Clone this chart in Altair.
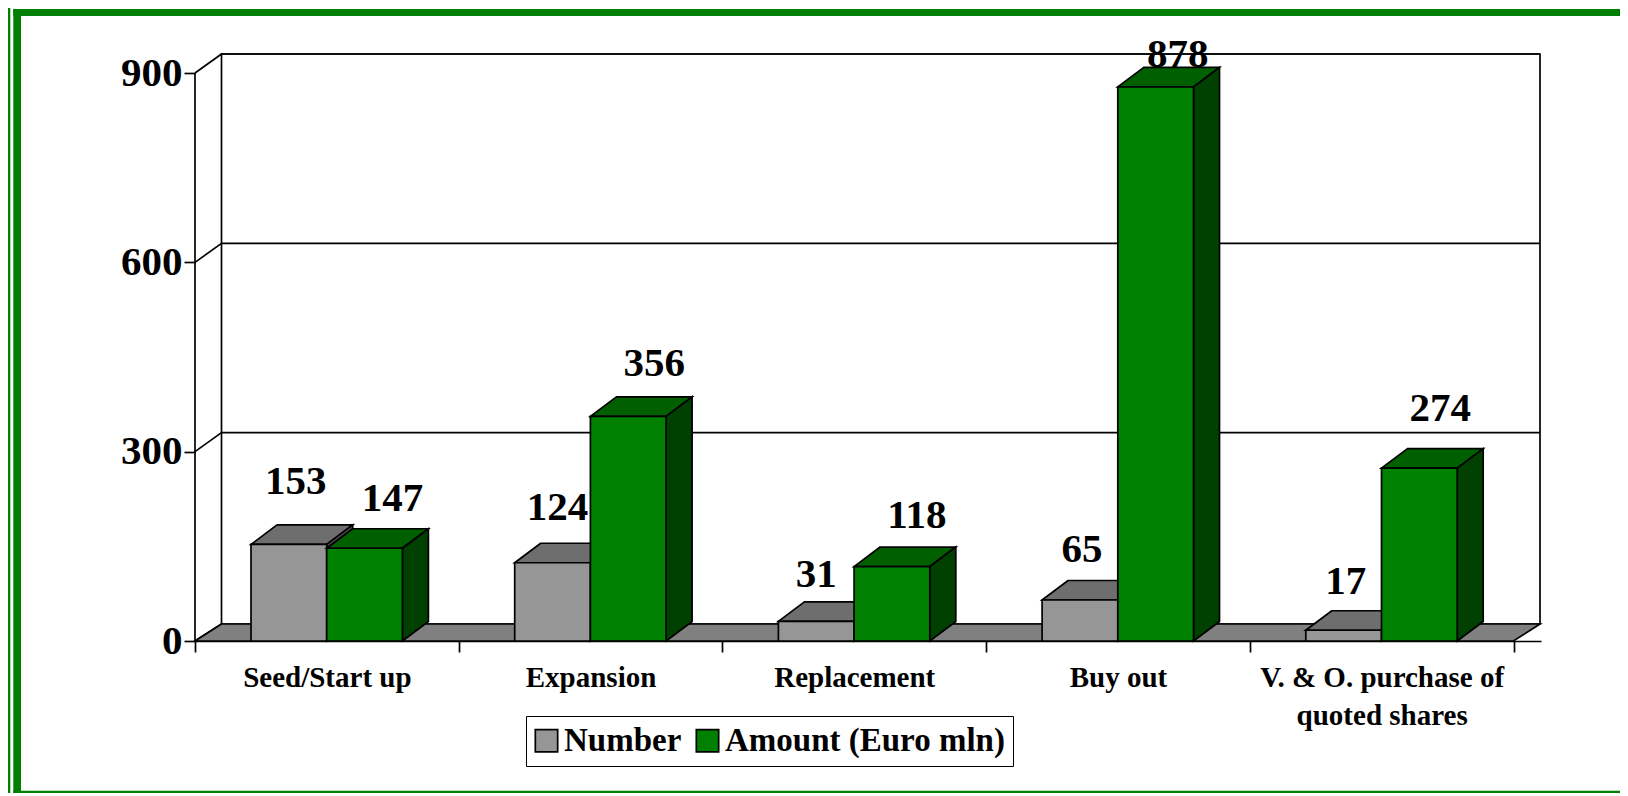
import json
import altair as alt
import pandas as pd

# ---- chart values ----
categories = ["Seed/Start up", "Expansion", "Replacement", "Buy out", "V. & O. purchase of quoted shares"]
tick_lines = [["Seed/Start up"], ["Expansion"], ["Replacement"], ["Buy out"], ["V. & O. purchase of", "quoted shares"]]
series_names = ["Number", "Amount (Euro mln)"]
number_values = [153, 124, 31, 65, 17]
amount_values = [147, 356, 118, 878, 274]
y_ticks = [0, 300, 600, 900]

# ---- layout (pixels) ----
W, H = 1346, 586
PAD_L, PAD_T = 187, 47
FLOOR_DX, WALL_DY, FLOOR_DY = 26.5, 19, 17
BAR_DX, BAR_DY = 26, 19.5
PX_PER_UNIT = 263.7
PX_PER_VALUE = (640 - 72) / 900
FONT = "Liberation Serif"
GREEN = "#008000"
LW = 1.7

xd = FLOOR_DX / PX_PER_UNIT
yd = WALL_DY / PX_PER_VALUE
fd = FLOOR_DY / PX_PER_VALUE
bdx = BAR_DX / PX_PER_UNIT
bdy = BAR_DY / PX_PER_VALUE
bar_start = 56 / PX_PER_UNIT
bar_w = 75.7 / PX_PER_UNIT

xscale = alt.Scale(domain=[0, W / PX_PER_UNIT], nice=False, zero=False)
yscale = alt.Scale(domain=[0, H / PX_PER_VALUE], nice=False, zero=False)

# label nudges, in pixels: distance above the bar top and to the right of the bar centre
lift_px = {"Number": [62, 55, 46, 50, 48], "Amount (Euro mln)": [49, 52, 51, 32, 59]}
nudge_px = {"Number": [7, 5, 0, 2, 2], "Amount (Euro mln)": [28, 26, 25, 22, 21]}
shades = {"Number": ("#969696", "#6E6E6E", "#4B4B4B"), "Amount (Euro mln)": (GREEN, "#006000", "#004000")}


def X(f="x", **kw):
    return alt.X(f, type="quantitative", scale=xscale, title=None, **kw)


def Y(f="y", **kw):
    return alt.Y(f, type="quantitative", scale=yscale, title=None, **kw)


fronts, tops, sides, labels = [], [], [], []
for s, values in zip(series_names, [number_values, amount_values]):
    offset = series_names.index(s) * bar_w
    for i, v in enumerate(values):
        a = i + bar_start + offset
        b = a + bar_w
        fronts.append(dict(series=s, x=a, x2=b, y=v, y0=0))
        key = f"{s}-{i}"
        tops += [dict(series=s, id=key, x=a, x2=b, y=v), dict(series=s, id=key, x=a + bdx, x2=b + bdx, y=v + bdy)]
        sides += [dict(series=s, id=key, x=b, y=v, y0=0), dict(series=s, id=key, x=b + bdx, y=v + bdy, y0=bdy)]
        labels.append(dict(
            series=s, text=str(v),
            x=(a + b) / 2 + nudge_px[s][i] / PX_PER_UNIT,
            y=v + lift_px[s][i] / PX_PER_VALUE,
        ))
fronts, tops, sides, labels = map(pd.DataFrame, (fronts, tops, sides, labels))


def rect(x, x2, y, y2):
    return alt.Chart(pd.DataFrame([{"a": 1}])).mark_rect(fill=GREEN).encode(
        x=alt.value(x), x2=alt.value(x2), y=alt.value(y), y2=alt.value(y2)
    )


frame = [
    rect(-187, -184.7, -47, 738),
    rect(-181.7, -174, -46, 738),
    rect(-181.7, 1425, -46, -39),
    rect(-181.7, 1425, 735.7, 738),
]

# axes: ticks on the category boundaries, labels on the centres
x_values = [i / 2 for i in range(11)]
label_by_half = []
for i in range(5):
    label_by_half += ["", tick_lines[i]]
label_by_half.append("")
x_axis = alt.Axis(
    values=x_values, title=None, grid=False, domain=True, domainColor="black", domainWidth=LW,
    ticks=True, tickColor="black", tickWidth=LW, tickSize=11,
    tickOpacity={"condition": {"test": "datum.value % 1 != 0", "value": 0}, "value": 1},
    labelExpr=json.dumps(label_by_half) + "[round(datum.value * 2)]",
    labelFont=FONT, labelFontWeight="bold", labelFontSize=29, labelColor="black",
    labelPadding=11, labelOverlap=False, labelBound=False, labelFlush=False, labelAngle=0,
    labelLineHeight=38, labelLimit=0,
)
y_axis = alt.Axis(
    values=y_ticks, title=None, grid=False, domain=False,
    ticks=True, tickColor="black", tickWidth=LW, tickSize=11,
    labelFont=FONT, labelFontWeight="bold", labelFontSize=41, labelColor="black",
    labelPadding=2, labelOverlap=False, labelBound=False, format="d",
)
axes = alt.Chart(pd.DataFrame({"x": [0.0], "y": [0.0]})).mark_point(opacity=0).encode(
    x=alt.X("x:Q", scale=xscale, axis=x_axis),
    y=alt.Y("y:Q", scale=yscale, axis=y_axis),
)

# walls
n = len(categories)
back_wall = alt.Chart(pd.DataFrame([dict(x=xd, x2=n + xd, y=fd, y2=900 + yd)])).mark_rect(
    fill="white", stroke="black", strokeWidth=LW
).encode(x=X(), x2="x2", y=Y(), y2="y2")
grid = alt.Chart(pd.DataFrame([dict(x=xd, x2=n + xd, y=v + yd) for v in y_ticks if v > 0])).mark_rule(
    color="black", strokeWidth=LW
).encode(x=X(), x2="x2", y=Y())
diag_rows = []
for v in y_ticks:
    diag_rows += [dict(id=v, x=0, y=v), dict(id=v, x=xd, y=v + (yd if v > 0 else fd))]
diagonals = alt.Chart(pd.DataFrame(diag_rows)).mark_line(color="black", strokeWidth=LW).encode(
    x=X(), y=Y(), detail="id:N"
)
front_edge = alt.Chart(pd.DataFrame([dict(x=0, y=0, y2=900)])).mark_rule(color="black", strokeWidth=LW).encode(
    x=X(), y=Y(), y2="y2"
)
floor = alt.Chart(pd.DataFrame([dict(x=0, x2=n, y=0), dict(x=xd, x2=n + xd, y=fd)])).mark_area(
    orient="horizontal", fill="#808080", stroke="black", strokeWidth=LW, opacity=1
).encode(x=X(), x2="x2", y=Y())

# bars, series by series
bar_layers = []
for s in series_names:
    front_col, top_col, side_col = shades[s]
    bar_layers += [
        alt.Chart(tops[tops.series == s]).mark_area(
            orient="horizontal", fill=top_col, stroke="black", strokeWidth=LW, opacity=1
        ).encode(x=X(), x2="x2", y=Y(), detail="id:N"),
        alt.Chart(sides[sides.series == s]).mark_area(
            fill=side_col, stroke="black", strokeWidth=LW, opacity=1
        ).encode(x=X(), y=Y(), y2="y0", detail="id:N"),
        alt.Chart(fronts[fronts.series == s]).mark_bar(stroke="black", strokeWidth=LW, opacity=1).encode(
            x=X(), x2="x2", y=Y(), y2="y0",
            color=alt.Color(
                "series:N",
                scale=alt.Scale(domain=series_names, range=[shades[k][0] for k in series_names]),
                legend=alt.Legend(
                    title=None, orient="none", legendX=331, legendY=661, direction="horizontal", columns=2,
                    fillColor="white", strokeColor="black", padding=8, symbolType="square", symbolSize=500,
                    symbolStrokeColor="black", symbolStrokeWidth=LW, symbolOpacity=1, symbolOffset=-4,
                    labelFont=FONT, labelFontWeight="bold", labelFontSize=33, labelColor="black",
                    labelOffset=1, columnPadding=10, labelLimit=0,
                ),
            ),
        ),
    ]

text = alt.Chart(labels).mark_text(
    font=FONT, fontWeight="bold", fontSize=41, color="black", align="center", baseline="middle"
).encode(x=X(), y=Y(), text="text:N")

chart = alt.layer(
    axes, *frame, back_wall, grid, diagonals, front_edge, floor, *bar_layers, text
).properties(
    width=W, height=H,
    padding={"left": PAD_L, "top": PAD_T, "right": 79, "bottom": 152},
    autosize=alt.AutoSizeParams(type="none"),
    background="white",
).configure_view(stroke=None)

chart.save("out.html", embed_options={"renderer": "svg", "actions": False})
